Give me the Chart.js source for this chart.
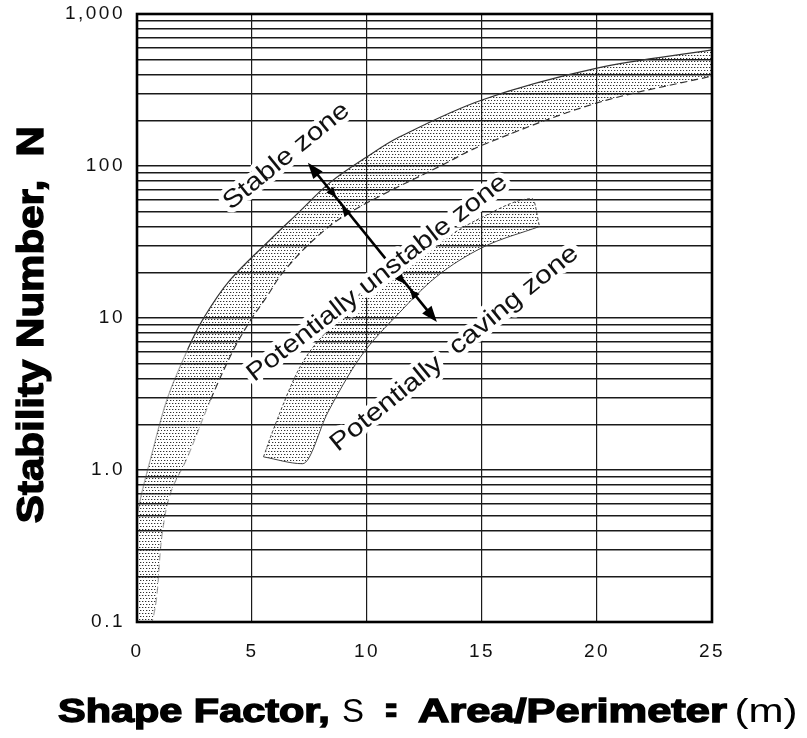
<!DOCTYPE html>
<html>
<head>
<meta charset="utf-8">
<script src="https://cdn.jsdelivr.net/npm/chart.js@4.4.1/dist/chart.umd.min.js"></script>
<style>
  html, body { margin: 0; padding: 0; background: #fff; }
  #wrap { width: 807px; height: 738px; position: relative; }
</style>
</head>
<body>
<div id="wrap"><canvas id="stability"></canvas></div>
<script>
// Zone boundaries: shape factor S (m) against stability number N
const band1TopS = [0, 0.2, 0.6, 1.3, 2.2, 2.9, 4.05, 5.9, 7.0, 8.4, 10, 11.4, 15, 20, 25];
const band1TopN = [0.5, 0.7, 1.2, 2.9, 6.2, 10, 17.8, 34, 49, 78, 115, 155, 272, 440, 580];
const band1BotS = [0, 0.65, 1.1, 1.45, 2.2, 3.2, 4.2, 5.0, 5.6, 6.35, 7.8, 9.3, 13.3, 15, 20, 25];
const band1BotN = [0.1, 0.1, 0.385, 0.7, 1.22, 2.9, 6.2, 10, 13.5, 20, 34, 50, 102, 137, 260, 391];
const band2TopS = [5.5, 5.9, 7.1, 8.7, 10, 11.9, 15, 17.2, 17.5];
const band2TopN = [1.22, 1.8, 4.8, 9.7, 16, 24, 46, 61, 40];
const band2BotS = [5.5, 7.2, 8.3, 9.7, 11.4, 13, 15, 17.5];
const band2BotN = [1.22, 1.1, 2.4, 5.5, 10.8, 18.6, 29, 40];

// double arrow across the zones and the small heads where it meets the bands
const arrowS = [7.43, 13.04];
const arrowN = [105, 9.4];
const markS = [8.52, 9.04, 11.5, 12.0];
const markN = [66, 51, 17.8, 14.6];

// axis ticks
const xTicks = [0, 5, 10, 15, 20, 25];
const yTickValues = [0.1, 1, 10, 100, 1000];
const yTickLabels = ['0.1', '1.0', '10', '100', '1,000'];

const FONT = "'Liberation Sans', Arial, Helvetica, sans-serif";

const zoneLabels = [
  { text: 'Stable zone', s: 6.5, n: 116, angle: -39.2, length: 155 },
  { text: 'Potentially unstable zone', s: 10.45, n: 18.3, angle: -37.8, length: 322 },
  { text: 'Potentially  caving zone', s: 13.8, n: 6.3, angle: -39.1, length: 312 }
];

const pts = (s, n) => s.map((v, i) => ({ x: v, y: n[i] }));

// horizontal rules at every 1..9 step of each decade
const yGrid = [];
yTickValues.slice(0, -1).forEach(d => {
  for (let m = 1; m <= 9; m++) yGrid.push(d * m);
});
yGrid.push(yTickValues[yTickValues.length - 1]);

const canvas = document.getElementById('stability');
const ctx0 = canvas.getContext('2d');

// stipple used for the transition bands (staggered dots)
const tile = document.createElement('canvas');
tile.width = 6; tile.height = 6;
const tctx = tile.getContext('2d');
[[1, 1], [4, 1], [2, 4], [5, 4]].forEach(([x, y]) => {
  tctx.fillStyle = '#333';
  tctx.fillRect(x, y, 1, 1);
  tctx.fillStyle = 'rgba(0,0,0,0.25)';
  tctx.fillRect(x + 1, y, 1, 1);
});
const dots = ctx0.createPattern(tile, 'repeat');

// the outlines fade out in the steep lower part of the upper band
const faintBelow = (lim, col) => c => (c.p1.parsed.x <= lim ? 'rgba(60,60,60,0.45)' : col);

function fitText(ctx, text, x0, x1, baseY, stroke) {
  const m = ctx.measureText(text);
  const vis = m.actualBoundingBoxLeft + m.actualBoundingBoxRight;
  const k = (x1 - x0) / vis;
  ctx.save();
  ctx.translate(x0, baseY);
  ctx.scale(k, 1);
  ctx.fillText(text, m.actualBoundingBoxLeft, 0);
  if (stroke) {
    ctx.lineWidth = stroke;
    ctx.strokeText(text, m.actualBoundingBoxLeft, 0);
  }
  ctx.restore();
}

function head(ctx, x, y, ux, uy, len, half) {
  ctx.beginPath();
  ctx.moveTo(x, y);
  ctx.lineTo(x - ux * len - uy * half, y - uy * len + ux * half);
  ctx.lineTo(x - ux * len + uy * half, y - uy * len - ux * half);
  ctx.closePath();
  ctx.fill();
}

const annotate = {
  id: 'annotate',
  beforeDraw(chart) {
    // the printed tick numerals are widely spaced
    chart.ctx.letterSpacing = '2.5px';
  },
  beforeDatasetsDraw(chart) {
    chart.ctx.letterSpacing = '0px';
  },
  afterDatasetsDraw(chart) {
    const { ctx, chartArea: a } = chart;
    const xs = chart.scales.x, ys = chart.scales.y;

    // arrow
    const x1 = xs.getPixelForValue(arrowS[0]), y1 = ys.getPixelForValue(arrowN[0]);
    const x2 = xs.getPixelForValue(arrowS[1]), y2 = ys.getPixelForValue(arrowN[1]);
    const L = Math.hypot(x2 - x1, y2 - y1);
    const ux = (x2 - x1) / L, uy = (y2 - y1) / L;
    ctx.save();
    ctx.strokeStyle = '#000';
    ctx.fillStyle = '#000';
    ctx.lineWidth = 2.6;
    ctx.beginPath();
    ctx.moveTo(x1 + ux * 10, y1 + uy * 10);
    ctx.lineTo(x2 - ux * 10, y2 - uy * 10);
    ctx.stroke();
    head(ctx, x1, y1, -ux, -uy, 16, 6);
    head(ctx, x2, y2, ux, uy, 16, 6);
    markS.forEach((s, i) => {
      const px = xs.getPixelForValue(s), py = ys.getPixelForValue(markN[i]);
      const d = i % 2 === 0 ? 1 : -1;
      head(ctx, px + d * ux * 5, py + d * uy * 5, d * ux, d * uy, 10, 4.5);
    });
    ctx.restore();

    // zone names with a white knock-out round the letters
    ctx.save();
    ctx.font = '25px ' + FONT;
    ctx.textAlign = 'center';
    ctx.textBaseline = 'middle';
    ctx.lineJoin = 'round';
    zoneLabels.forEach(lab => {
      const w = ctx.measureText(lab.text).width;
      ctx.save();
      ctx.translate(xs.getPixelForValue(lab.s), ys.getPixelForValue(lab.n));
      ctx.rotate(lab.angle * Math.PI / 180);
      ctx.scale(lab.length / w, 1);
      ctx.strokeStyle = '#fff';
      ctx.lineWidth = 9;
      ctx.strokeText(lab.text, 0, 0);
      ctx.fillStyle = '#111';
      ctx.fillText(lab.text, 0, 0);
      ctx.restore();
    });
    ctx.restore();

    // frame
    ctx.save();
    ctx.strokeStyle = '#000';
    ctx.lineWidth = 2.6;
    ctx.strokeRect(a.left, a.top, a.right - a.left, a.bottom - a.top);
    ctx.restore();
  },
  afterDraw(chart) {
    const ctx = chart.ctx;
    ctx.save();
    ctx.fillStyle = '#000';
    ctx.strokeStyle = '#000';
    ctx.textBaseline = 'alphabetic';
    ctx.textAlign = 'left';

    // x title, mixed weights
    const parts = [
      { text: 'Shape Factor,', bold: true, from: 58, to: 327 },
      { text: 'S', bold: false, from: 343, to: 363 },
      { text: '=', bold: true, from: 386, to: 396 },
      { text: 'Area/Perimeter', bold: true, from: 418, to: 727 },
      { text: '(m)', bold: false, from: 737, to: 795 }
    ];
    parts.forEach(p => {
      ctx.font = (p.bold ? 'bold ' : '') + '33px ' + FONT;
      fitText(ctx, p.text, p.from, p.to, 722, p.bold ? 1.4 : 0);
    });

    // y title
    ctx.save();
    ctx.translate(43, 522);
    ctx.rotate(-Math.PI / 2);
    ctx.font = 'bold 37px ' + FONT;
    fitText(ctx, 'Stability Number,  N', 0, 394, 0, 1.4);
    ctx.restore();

    ctx.restore();
  }
};

const noPad = s => { s.paddingTop = 0; s.paddingBottom = 0; s.paddingLeft = 0; s.paddingRight = 0; };

new Chart(canvas, {
  type: 'line',
  data: {
    datasets: [
      { data: pts(band1TopS, band1TopN), fill: '+1', backgroundColor: dots,
        borderColor: '#333', borderWidth: 1.2, tension: 0.35,
        segment: { borderColor: faintBelow(2.2, '#333') } },
      { data: pts(band1BotS, band1BotN), fill: false, tension: 0.35,
        borderColor: '#333', borderWidth: 1.2, borderDash: [7, 4],
        segment: { borderColor: faintBelow(3.2, '#333') } },
      { data: pts(band2TopS, band2TopN), fill: '+1', backgroundColor: dots,
        borderColor: '#444', borderWidth: 1, borderDash: [3, 2],
        cubicInterpolationMode: 'monotone' },
      { data: pts(band2BotS, band2BotN), fill: false,
        borderColor: '#444', borderWidth: 1, cubicInterpolationMode: 'monotone' }
    ]
  },
  options: {
    responsive: true,
    maintainAspectRatio: false,
    animation: false,
    layout: { padding: { top: 14, right: 95, left: 0, bottom: 0 } },
    elements: { point: { radius: 0, hoverRadius: 0 } },
    plugins: { legend: { display: false }, tooltip: { enabled: false } },
    scales: {
      x: {
        type: 'linear', min: 0, max: 25,
        afterBuildTicks: s => { s.ticks = xTicks.map(v => ({ value: v })); },
        afterFit: s => { s.height = 116; noPad(s); },
        border: { display: false },
        grid: { color: '#1a1a1a', lineWidth: 1.2, drawTicks: false },
        ticks: { padding: 18, color: '#111', font: { family: FONT, size: 19 }, maxRotation: 0 }
      },
      y: {
        type: 'logarithmic', min: 0.1, max: 1000,
        afterBuildTicks: s => { s.ticks = yGrid.map(v => ({ value: v })); },
        afterFit: s => { s.width = 137; noPad(s); },
        border: { display: false },
        grid: { color: '#1a1a1a', lineWidth: 1.4, drawTicks: false },
        ticks: {
          autoSkip: false, padding: 12, color: '#111',
          font: { family: FONT, size: 19 },
          callback: v => {
            const i = yTickValues.findIndex(t => Math.abs(t - v) / t < 1e-6);
            return i >= 0 ? yTickLabels[i] : '';
          }
        }
      }
    }
  },
  plugins: [annotate]
});
</script>
</body>
</html>
